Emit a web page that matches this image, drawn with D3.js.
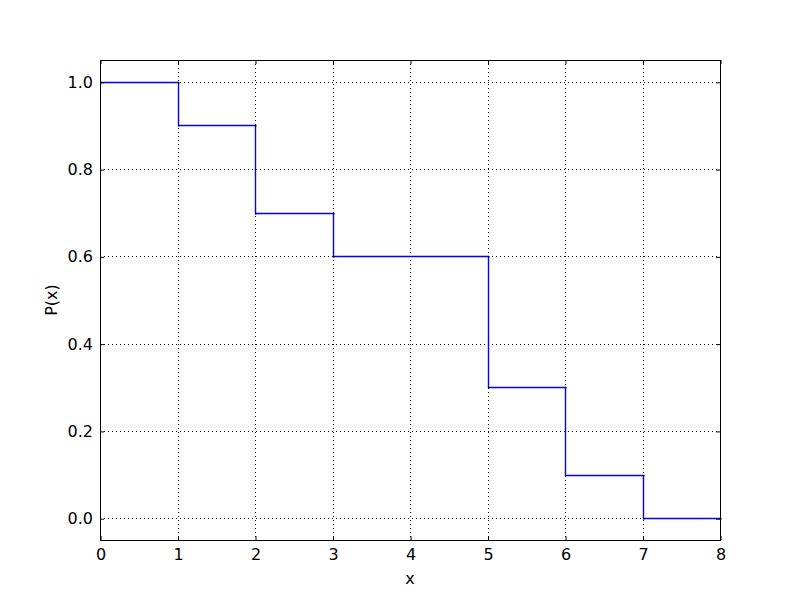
<!DOCTYPE html>
<html><head><meta charset="utf-8">
<script src="https://cdn.jsdelivr.net/npm/d3@7"></script>
<style>body{margin:0;background:#fff}svg{display:block}text{font-family:"DejaVu Sans",sans-serif}</style>
</head><body>
<script>
const xs = [0, 1, 1, 2, 2, 3, 3, 5, 5, 6, 6, 7, 7, 8];
const ys = [1.0, 1.0, 0.9, 0.9, 0.7, 0.7, 0.6, 0.6, 0.3, 0.3, 0.1, 0.1, 0.0, 0.0];
const xTicks = [0, 1, 2, 3, 4, 5, 6, 7, 8];
const yTicks = [0.0, 0.2, 0.4, 0.6, 0.8, 1.0];

const W = 800, H = 600, L = 100, R = 720, T = 60, B = 540;
const svg = d3.select("body").append("svg").attr("width", W).attr("height", H);
const x = d3.scaleLinear().domain([0, 8]).range([L, R]);
const y = d3.scaleLinear().domain([-0.05, 1.05]).range([B, T]);

// grid
const g = svg.append("g");
g.selectAll(".gx").data(xTicks).enter().append("line")
  .attr("x1", d => Math.round(x(d)) + 0.5).attr("x2", d => Math.round(x(d)) + 0.5)
  .attr("y1", T).attr("y2", B).attr("stroke", "#000").attr("stroke-width", 1).attr("stroke-dasharray", "1,3");
g.selectAll(".gy").data(yTicks).enter().append("line")
  .attr("y1", d => Math.round(y(d)) + 0.5).attr("y2", d => Math.round(y(d)) + 0.5)
  .attr("x1", L).attr("x2", R).attr("stroke", "#000").attr("stroke-width", 1).attr("stroke-dasharray", "1,3");

// line
const pts = xs.map((v, i) => [v, ys[i]]);
svg.append("path").datum(pts)
  .attr("d", d3.line().x(d => Math.round(x(d[0])) + 0.5).y(d => Math.round(y(d[1])) + 0.5))
  .attr("fill", "none").attr("stroke", "#0000ff").attr("stroke-width", 1.4);
svg.selectAll(".pt").data(pts).enter().append("rect")
  .attr("x", d => Math.round(x(d[0]))).attr("y", d => Math.round(y(d[1])))
  .attr("width", 1.5).attr("height", 1.5).attr("fill", "#000");

// axes with inward ticks on all sides
const fs = 16;
function ax(axis, tr) {
  const a = svg.append("g").attr("transform", tr).call(axis);
  a.select(".domain").remove();
  a.selectAll("line").attr("stroke", "#000");
  a.selectAll("text").attr("font-size", fs).attr("fill", "#000");
  return a;
}
const fmtX = d3.format("d"), fmtY = d3.format(".1f");
ax(d3.axisBottom(x).tickValues(xTicks).tickFormat(fmtX).tickSizeInner(-4).tickSizeOuter(0).tickPadding(9), `translate(0.5,${B})`);
ax(d3.axisTop(x).tickValues(xTicks).tickFormat("").tickSizeInner(-4).tickSizeOuter(0), `translate(0.5,${T})`);
ax(d3.axisLeft(y).tickValues(yTicks).tickFormat(fmtY).tickSizeInner(-4).tickSizeOuter(0).tickPadding(7), `translate(${L},0.5)`);
ax(d3.axisRight(y).tickValues(yTicks).tickFormat("").tickSizeInner(-4).tickSizeOuter(0), `translate(${R},0.5)`);

svg.append("rect").attr("x", L + 0.5).attr("y", T + 0.5).attr("width", R - L).attr("height", B - T)
  .attr("fill", "none").attr("stroke", "#000").attr("stroke-width", 1);

svg.append("text").attr("x", (L + R) / 2).attr("y", 584).attr("text-anchor", "middle")
  .attr("font-size", fs).text("x");
svg.append("text").attr("transform", `translate(57,${(T + B) / 2}) rotate(-90)`).attr("text-anchor", "middle")
  .attr("font-size", fs).text("P(x)");
</script>
</body></html>
